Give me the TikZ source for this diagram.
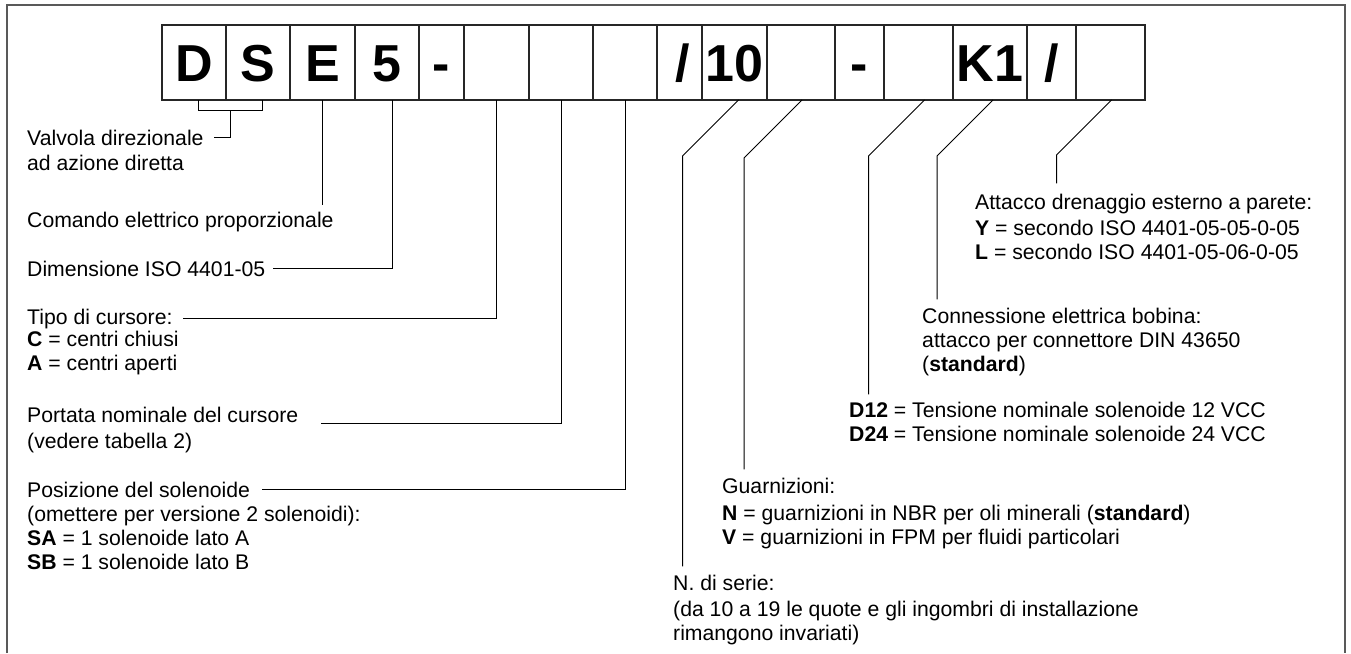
\documentclass[tikz,border=0pt]{standalone}
\usepackage{fontspec}
\setmainfont{Liberation Sans}
\usetikzlibrary{positioning,calc}

\tikzset{
  casella/.style={draw=black!85,line width=1.2pt,outer sep=0pt,inner sep=0pt,
    minimum height=75pt,text height=38pt,text depth=0pt,
    font=\fontsize{52}{52}\selectfont\bfseries},
  voce/.style={anchor=base west,align=left,inner sep=0pt,
    font=\fontsize{21.2}{24}\selectfont},
  richiamo/.style={line width=1pt},
  cornice/.style={line width=2pt,draw=black!65}
}

\begin{document}
\begin{tikzpicture}[x=1pt,y=-1pt]
\useasboundingbox (0,0) rectangle (1351,653);
\draw[cornice] (7,653) -- (7,5) -- (1345,5) -- (1345,653);

\node[casella,minimum width=64pt,anchor=north west] (b1) at (162,25) {D};
\node[casella,minimum width=64pt,right=0pt of b1] (b2) {S};
\node[casella,minimum width=65pt,right=0pt of b2] (b3) {E};
\node[casella,minimum width=64pt,right=0pt of b3] (b4) {5};
\node[casella,minimum width=45pt,right=0pt of b4] (b5) {-};
\node[casella,minimum width=65pt,right=0pt of b5] (b6) {};
\node[casella,minimum width=64pt,right=0pt of b6] (b7) {};
\node[casella,minimum width=64pt,right=0pt of b7] (b8) {};
\node[casella,minimum width=45pt,right=0pt of b8] (b9) {\hspace*{6pt}/};
\node[casella,minimum width=65pt,right=0pt of b9] (b10) {10};
\node[casella,minimum width=68pt,right=0pt of b10] (b11) {};
\node[casella,minimum width=49pt,right=0pt of b11] (b12) {-};
\node[casella,minimum width=69pt,right=0pt of b12] (b13) {};
\node[casella,minimum width=74pt,right=0pt of b13] (b14) {K1};
\node[casella,minimum width=49pt,right=0pt of b14] (b15) {/};
\node[casella,minimum width=69pt,right=0pt of b15] (b16) {};

% a multi-line node sits on the baseline of its last line
\node[voce] (valv) at (27,145) {Valvola direzionale};
\node[voce] (valv2) at ([yshift=-25pt]valv.base west) {ad azione diretta};
\node[voce] (com) at (27,227) {Comando elettrico proporzionale};
\node[voce] (dim) at (27,276) {Dimensione ISO 4401-05};
\node[voce] (tipo) at (27,324) {Tipo di cursore:};
\node[voce] (tipoval) at ([yshift=-46pt]tipo.base west)
  {\textbf{C} = centri chiusi\\\textbf{A} = centri aperti};
\node[voce] (port) at (27,422) {Portata nominale del cursore};
\node[voce] (portval) at ([yshift=-26pt]port.base west) {(vedere tabella 2)};
\node[voce] (pos) at (27,497) {Posizione del solenoide};
\node[voce] (posval) at ([yshift=-72pt]pos.base west)
  {(omettere per versione 2 solenoidi):\\\textbf{SA} = 1 solenoide lato A\\\textbf{SB} = 1 solenoide lato B};

\node[voce] (dren) at (975,209) {Attacco drenaggio esterno a parete:};
\node[voce] (drenval) at ([yshift=-50pt]dren.base west)
  {\textbf{Y} = secondo ISO 4401-05-05-0-05\\\textbf{L} = secondo ISO 4401-05-06-0-05};
\node[voce] (conn) at (922,371)
  {Connessione elettrica bobina:\\attacco per connettore DIN 43650\\(\textbf{standard})};
\node[voce] (tens) at (849,441)
  {\textbf{D12} = Tensione nominale solenoide 12 VCC\\\textbf{D24} = Tensione nominale solenoide 24 VCC};
\node[voce] (guarn) at (722,493) {Guarnizioni:};
\node[voce] (guarnval) at ([yshift=-51pt]guarn.base west)
  {\textbf{N} = guarnizioni in NBR per oli minerali (\textbf{standard})\\\textbf{V} = guarnizioni in FPM per fluidi particolari};
\node[voce] (serie) at (673,590) {N. di serie:};
\node[voce] (serieval) at ([yshift=-50pt]serie.base west)
  {(da 10 a 19 le quote e gli ingombri di installazione\\rimangono invariati)};

\draw[richiamo] ([xshift=4pt]b1.south) -- ++(0,10) coordinate (ds) -| ([xshift=4pt]b2.south);
\draw[richiamo] ($(ds)+(32,0)$) |- ([xshift=10pt]valv.east);
\draw[richiamo] (b3.south) -- ($(b3.south |- com.north)+(0,-6)$);
\draw[richiamo] ([xshift=5pt]b4.south) |- ([xshift=8pt]dim.east);
\draw[richiamo] (b6.south) |- ([xshift=10pt]tipo.east);
\draw[richiamo] (b7.south) |- ([xshift=23pt,yshift=-1pt]port.base east);
\draw[richiamo] (b8.south) |- ([xshift=12pt]pos.east);

\draw[richiamo] ([xshift=4pt]b10.south) -- ++(-56,56) coordinate (k10) -- ($(k10 |- serie.north)+(0,-8)$);
\draw[richiamo] ([xshift=1pt]b11.south) -- ++(-58,58) coordinate (k11) -- ($(k11 |- guarn.north)+(0,-8)$);
\draw[richiamo] ([xshift=6pt]b13.south) -- ++(-56,56) coordinate (k13) -- ($(k13 |- tens.north)+(0,-7)$);
\draw[richiamo] ([xshift=3pt]b14.south) -- ++(-56,56) coordinate (k14) -- ($(k14 |- conn.north)+(0,-8)$);
\draw[richiamo] ([xshift=1pt]b16.south) -- ++(-55,55) coordinate (k16) -- ($(k16 |- dren.north)+(0,-10)$);
\end{tikzpicture}
\end{document}
